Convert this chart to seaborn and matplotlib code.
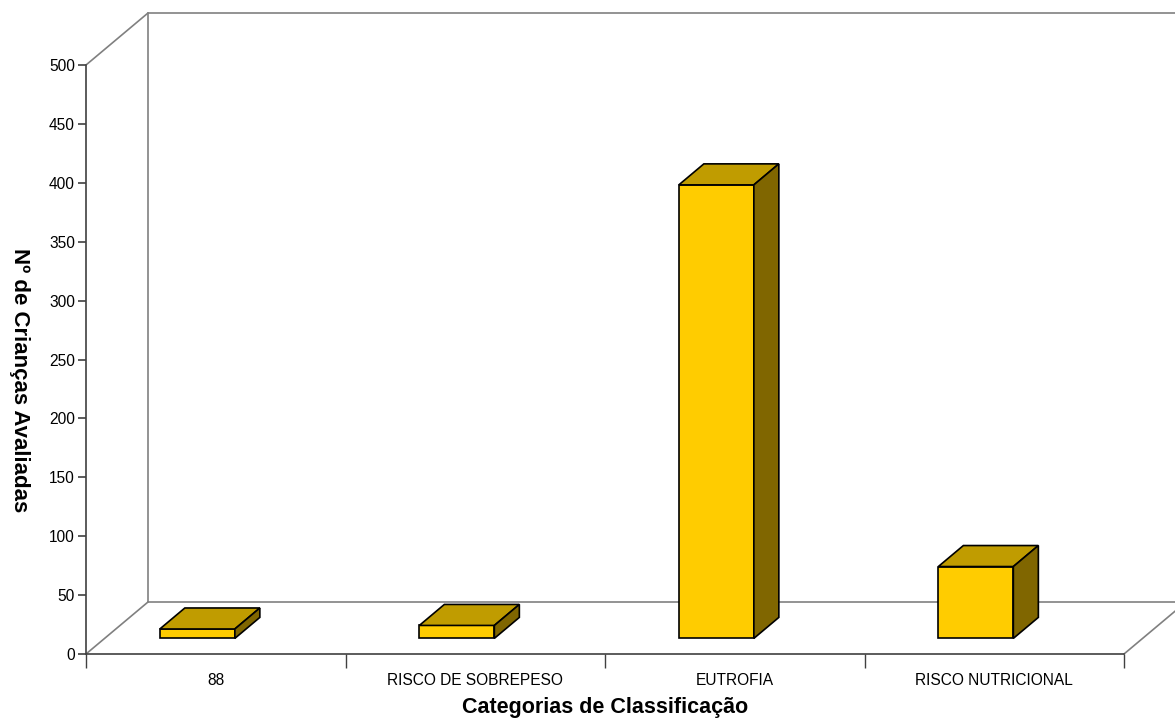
import matplotlib
matplotlib.use("Agg")
import matplotlib.pyplot as plt
import matplotlib.transforms as mtransforms
from matplotlib.patches import Polygon
import seaborn as sns
import pandas as pd
import numpy as np

categories = ["88", "RISCO DE SOBREPESO", "EUTROFIA", "RISCO NUTRICIONAL"]
values = [8, 11, 385, 61]
y_ticks = [0, 50, 100, 150, 200, 250, 300, 350, 400, 450, 500]
x_title = "Categorias de Classificação"
y_title = "Nº de Crianças Avaliadas"

sns.set_theme(style="white")
plt.rcParams['font.family'] = ['Liberation Sans', 'DejaVu Sans']

W, H = 1175, 719
fig = plt.figure(figsize=(W / 100, H / 100), dpi=100)
# front plane of the 3-D box in pixels
x0p, x1p, y0p, y1p = 86, 1124, 654, 65
ax = fig.add_axes([x0p / W, 1 - y0p / H, (x1p - x0p) / W, (y0p - y1p) / H])
ax.set_xlim(-0.5, 3.5)
ax.set_ylim(0, 500)

px_per_cat = (x1p - x0p) / 4.0
px_per_val = (y0p - y1p) / 500.0

df = pd.DataFrame({"cat": categories, "val": values})
front = "#FFCC00"
top_c = "#C09C00"
side_c = "#806600"

bar_w = 75 / px_per_cat
sns.barplot(data=df, x="cat", y="val", order=categories, color=front,
            width=bar_w, saturation=1, edgecolor="black", linewidth=1.2, ax=ax, zorder=3)

# bars sit part-way into the floor depth
shift = mtransforms.ScaledTranslation(-18.4 / 100, 15.6 / 100, fig.dpi_scale_trans)
bar_tr = ax.transData + shift
ddx = 25 / px_per_cat
ddy = 21 / px_per_val
for p in ax.patches:
    p.set_transform(bar_tr)
    p.set_clip_on(False)
    bx0 = p.get_x()
    bx1 = bx0 + p.get_width()
    h = p.get_height()
    top = Polygon([(bx0, h), (bx1, h), (bx1 + ddx, h + ddy), (bx0 + ddx, h + ddy)],
                  closed=True, facecolor=top_c, edgecolor="black", linewidth=1.2,
                  transform=bar_tr, clip_on=False, zorder=3)
    side = Polygon([(bx1, 0), (bx1, h), (bx1 + ddx, h + ddy), (bx1 + ddx, ddy)],
                   closed=True, facecolor=side_c, edgecolor="black", linewidth=1.2,
                   transform=bar_tr, clip_on=False, zorder=3)
    ax.add_patch(top)
    ax.add_patch(side)

# walls (depth = full box)
DX = 62 / px_per_cat
DY = 52 / px_per_val
grey = "#808080"
xl, xr = -0.5, 3.5
lw = 1.2
ax.plot([xl + DX, xl + DX], [DY, 500 + DY], color=grey, lw=lw, clip_on=False, zorder=1)
ax.plot([xl + DX, xr + DX + 1], [500 + DY, 500 + DY], color=grey, lw=lw, clip_on=False, zorder=1)
ax.plot([xl + DX, xr + DX + 1], [DY, DY], color=grey, lw=lw, clip_on=False, zorder=1)
ax.plot([xl, xl + DX], [500, 500 + DY], color=grey, lw=lw, clip_on=False, zorder=1)
ax.plot([xl, xl + DX], [0, DY], color=grey, lw=lw, clip_on=False, zorder=1)
ax.plot([xr, xr + DX], [0, DY], color=grey, lw=lw, clip_on=False, zorder=1)

for s in ["top", "right"]:
    ax.spines[s].set_visible(False)
for s in ["left", "bottom"]:
    ax.spines[s].set_color("#404040")
    ax.spines[s].set_linewidth(1.2)
ax.set_facecolor("none")
fig.patch.set_facecolor("white")

ax.set_yticks(y_ticks)
ax.set_yticklabels([str(v) for v in y_ticks])
ax.tick_params(axis="y", which="major", left=True, direction="out", length=6,
               width=1.2, color="#404040", labelsize=11.2, pad=2, labelcolor="black")

ax.set_xticks([-0.5, 0.5, 1.5, 2.5, 3.5])
ax.set_xticklabels([])
ax.set_xticks([0, 1, 2, 3], minor=True)
ax.set_xticklabels(categories, minor=True)
ax.tick_params(axis="x", which="major", bottom=True, direction="out", length=10,
               width=1.0, color="#404040")
ax.tick_params(axis="x", which="minor", bottom=False, length=0, labelsize=11.2,
               pad=14, labelcolor="black")

ax.set_xlabel(x_title, fontsize=15.5, fontweight="bold", color="black", va="center")
ax.xaxis.set_label_coords(0.5, (654 - 707) / (654 - 65))
ax.set_ylabel(y_title, fontsize=16, fontweight="bold", color="black",
              rotation=270, va="center", ha="center")
ax.yaxis.set_label_coords((19 - 86) / (1124 - 86), (654 - 380) / (654 - 65))
ax.grid(False)

fig.savefig("out.png", dpi=100, facecolor="white")
